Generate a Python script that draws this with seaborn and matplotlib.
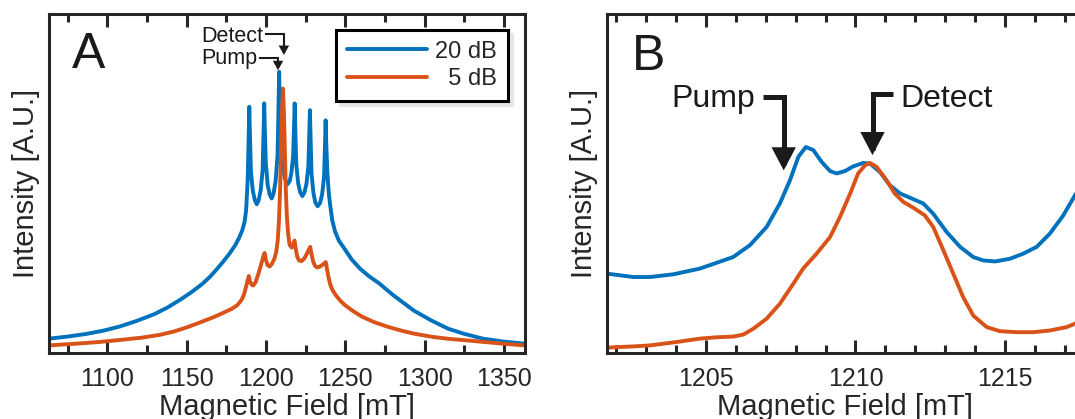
import matplotlib
matplotlib.use("Agg")
import matplotlib.pyplot as plt
from matplotlib.ticker import MultipleLocator, NullLocator
import pandas as pd
import seaborn as sns

# ---------------- data ----------------
series_labels = ["20 dB", "5 dB"]
legend_labels = ["20 dB", "  5 dB"]
series_colors = ["#0072BD", "#D95319"]

# Panel A (wide sweep)
a_blue_x = [1063.5, 1075, 1087, 1098, 1108, 1119, 1130, 1138, 1146, 1153, 1160, 1165, 1169, 1173,
            1177, 1180.5, 1183, 1185, 1186.5, 1187.5, 1188.5, 1189.1, 1189.5,
            1189.9, 1190.5, 1191.7, 1193.0, 1194.2,
            1195.4, 1196.7, 1197.9, 1198.5, 1198.9,
            1199.3, 1199.9, 1201.1, 1202.4, 1203.6,
            1204.8, 1206.1, 1207.3, 1207.9, 1208.3,
            1208.7, 1209.3, 1210.4, 1212.0, 1213.6,
            1215.0, 1216.0, 1217.1, 1217.7, 1218.1,
            1218.5, 1219.1, 1220.3, 1221.6, 1222.9,
            1224.2, 1225.5, 1226.7, 1227.3, 1227.7,
            1228.1, 1228.7, 1229.9, 1231.1, 1232.6,
            1234.1, 1235.4, 1236.6, 1237.2, 1237.6,
            1238.0, 1238.7, 1239.6, 1240.6, 1241.8, 1243.5, 1246.0, 1249.7, 1254, 1259.2,
            1265, 1271.4, 1280, 1293.1, 1304, 1314.9, 1325, 1336.6, 1350, 1363.2]
a_blue_y = [0.041, 0.047, 0.055, 0.065, 0.077, 0.094, 0.114, 0.133, 0.156, 0.178, 0.203, 0.225, 0.246, 0.268,
            0.292, 0.316, 0.338, 0.360, 0.385, 0.420, 0.510, 0.635, 0.726,
            0.645, 0.536, 0.478, 0.450, 0.438,
            0.450, 0.480, 0.539, 0.653, 0.736,
            0.657, 0.560, 0.494, 0.466, 0.455,
            0.470, 0.507, 0.582, 0.724, 0.829,
            0.736, 0.630, 0.560, 0.512, 0.497,
            0.507, 0.530, 0.578, 0.669, 0.736,
            0.659, 0.555, 0.500, 0.473, 0.462,
            0.472, 0.498, 0.548, 0.645, 0.716,
            0.636, 0.529, 0.472, 0.443, 0.432,
            0.442, 0.468, 0.518, 0.615, 0.686,
            0.615, 0.530, 0.470, 0.430, 0.390, 0.358, 0.330, 0.305, 0.275, 0.248,
            0.225, 0.204, 0.170, 0.124, 0.095, 0.070, 0.055, 0.041, 0.032, 0.026]

a_orange_x = [1063.5, 1080, 1095, 1110, 1122, 1133, 1142, 1150, 1158, 1166.8, 1173, 1178.4, 1182,
              1184.7, 1186.2, 1187.4, 1188.4, 1189.2, 1189.9, 1191.0, 1192.0, 1193.5, 1195.2,
              1196.7, 1197.9, 1198.7, 1199.2, 1199.9, 1201.0, 1202.3, 1203.8, 1205.4, 1206.5,
              1207.4, 1208.2, 1208.9, 1209.5, 1210.1, 1210.7, 1211.3, 1211.9, 1212.5, 1213.2,
              1214.0, 1214.9, 1216.2, 1217.3, 1218.0, 1218.6, 1219.6, 1220.8, 1222.4, 1224.2,
              1225.8, 1227.1, 1227.9, 1228.6, 1229.8, 1231.0, 1232.4, 1234.0, 1235.6, 1236.9,
              1237.7, 1238.5, 1239.5, 1240.7, 1242.2, 1244.2, 1247, 1250, 1255, 1260.5, 1268,
              1276, 1285, 1293, 1305, 1316, 1326, 1340, 1352, 1363.2]
a_orange_y = [0.021, 0.026, 0.031, 0.038, 0.044, 0.052, 0.062, 0.074, 0.088, 0.104, 0.117, 0.129, 0.140,
              0.156, 0.172, 0.193, 0.212, 0.226, 0.210, 0.200, 0.198, 0.208, 0.232,
              0.256, 0.276, 0.290, 0.294, 0.275, 0.258, 0.254, 0.262, 0.278, 0.298,
              0.330, 0.390, 0.480, 0.600, 0.710, 0.780, 0.710, 0.600, 0.480, 0.400,
              0.350, 0.318, 0.310, 0.322, 0.331, 0.310, 0.285, 0.272, 0.270, 0.278,
              0.292, 0.305, 0.312, 0.293, 0.268, 0.255, 0.251, 0.254, 0.259, 0.264,
              0.267, 0.245, 0.220, 0.198, 0.182, 0.168, 0.152, 0.139, 0.122, 0.106, 0.090,
              0.077, 0.065, 0.056, 0.046, 0.040, 0.036, 0.030, 0.025, 0.021]

# Panel B (zoom on the central line)
b_blue_x = [1201.6, 1202.57, 1203.13, 1203.91, 1204.8, 1205.91, 1206.47, 1207.03, 1207.47, 1207.81,
            1208.09, 1208.34, 1208.59, 1208.87, 1209.15, 1209.37, 1209.65, 1209.93, 1210.26, 1210.49,
            1210.82, 1211.15, 1211.49, 1211.88, 1212.27, 1212.6, 1213.05, 1213.5, 1213.94, 1214.27,
            1214.67, 1215.17, 1215.61, 1216.06, 1216.5, 1216.95, 1217.34, 1217.7]
b_blue_y = [0.234, 0.223, 0.223, 0.231, 0.248, 0.282, 0.317, 0.371, 0.440, 0.509,
            0.578, 0.607, 0.598, 0.563, 0.536, 0.529, 0.536, 0.550, 0.560, 0.558,
            0.533, 0.494, 0.470, 0.455, 0.440, 0.410, 0.356, 0.312, 0.282, 0.272,
            0.269, 0.277, 0.292, 0.312, 0.351, 0.405, 0.464, 0.520]

b_orange_x = [1201.6, 1202.57, 1203.13, 1204.02, 1204.8, 1205.36, 1205.91, 1206.25, 1206.58, 1207.03,
              1207.47, 1207.92, 1208.25, 1208.70, 1209.15, 1209.48, 1209.82, 1210.09, 1210.32, 1210.49,
              1210.71, 1211.04, 1211.32, 1211.6, 1211.93, 1212.32, 1212.6, 1212.94, 1213.27, 1213.6,
              1213.94, 1214.39, 1214.83, 1215.39, 1215.95, 1216.5, 1217.06, 1217.34, 1217.7]
b_orange_y = [0.014, 0.018, 0.021, 0.031, 0.041, 0.045, 0.047, 0.053, 0.070, 0.100,
              0.144, 0.203, 0.248, 0.292, 0.341, 0.400, 0.469, 0.529, 0.553, 0.560,
              0.548, 0.509, 0.469, 0.445, 0.428, 0.405, 0.371, 0.302, 0.233, 0.164,
              0.109, 0.075, 0.063, 0.060, 0.060, 0.065, 0.075, 0.085, 0.100]

a_xlim = (1063.5, 1363.2)
b_xlim = (1201.7, 1217.61)
xlabel = "Magnetic Field [mT]"
ylabel = "Intensity [A.U.]"


def frame_df(xb, yb, xo, yo):
    return pd.concat([
        pd.DataFrame({"field": xb, "intensity": yb, "series": series_labels[0]}),
        pd.DataFrame({"field": xo, "intensity": yo, "series": series_labels[1]}),
    ], ignore_index=True)


df_a = frame_df(a_blue_x, a_blue_y, a_orange_x, a_orange_y)
df_b = frame_df(b_blue_x, b_blue_y, b_orange_x, b_orange_y)

# ---------------- style ----------------
sns.set_theme(style="ticks")
plt.rcParams["font.family"] = ["Liberation Sans", "DejaVu Sans"]
dark = "#262626"
lw_data = 2.8

W, H = 1075, 419
fig = plt.figure(figsize=(W / 100, H / 100), dpi=100)
ax_w = 475.7 / W
ax_b = (H - 352.5) / H
ax_h = 338.5 / H
axA = fig.add_axes([49.3 / W, ax_b, ax_w, ax_h])
axB = fig.add_axes([607.3 / W, ax_b, ax_w, ax_h])

palette = dict(zip(series_labels, series_colors))
for ax, df in ((axA, df_a), (axB, df_b)):
    sns.lineplot(data=df, x="field", y="intensity", hue="series", palette=palette,
                 hue_order=series_labels, linewidth=lw_data, sort=False, estimator=None,
                 ax=ax, legend=(ax is axA))
    for ln in ax.get_lines():
        ln.set_solid_joinstyle("round")


def style_axes(ax, xlim, major, minor):
    ax.set_xlim(*xlim)
    ax.set_ylim(0, 1)
    ax.xaxis.set_major_locator(MultipleLocator(major))
    ax.xaxis.set_minor_locator(MultipleLocator(minor))
    ax.yaxis.set_major_locator(NullLocator())
    ax.yaxis.set_minor_locator(NullLocator())
    ax.tick_params(axis="x", which="both", direction="in", top=True, bottom=True,
                   width=2.2, color=dark, labelsize=18, labelcolor=dark, pad=10.5)
    ax.tick_params(axis="x", which="major", length=9.5)
    ax.tick_params(axis="x", which="minor", length=5.5)
    for s in ax.spines.values():
        s.set_linewidth(2.2)
        s.set_color(dark)
    ax.set_xlabel(xlabel, fontsize=21, color=dark)
    ax.set_ylabel(ylabel, fontsize=21, color=dark)
    ax.xaxis.set_label_coords(0.5, -0.12)
    ax.yaxis.set_label_coords(-0.02, 0.5)


style_axes(axA, a_xlim, 50, 25)
style_axes(axB, b_xlim, 5, 1)

# panel letters
axA.text(0.048, 0.840, "A", transform=axA.transAxes, fontsize=36, ha="left", va="baseline", color="k")
axB.text(0.052, 0.834, "B", transform=axB.transAxes, fontsize=36, ha="left", va="baseline", color="k")

# legend
handles, _ = axA.get_legend_handles_labels()
leg = axA.legend(handles, legend_labels, loc="upper right", bbox_to_anchor=(0.964, 0.953),
                 borderaxespad=0, frameon=True, fancybox=False, edgecolor="black", framealpha=1,
                 fontsize=17, handlelength=3.4, handletextpad=0.35, labelspacing=0.25,
                 borderpad=0.45,
                 shadow={"ox": 3, "oy": -3, "shade": 0.1, "alpha": 1})
leg.get_frame().set_linewidth(2.2)
for line in leg.get_lines():
    line.set_linewidth(lw_data)


def elbow(ax, start, tip, lw, scale, hl, hw):
    ax.annotate("", xy=tip, xytext=start,
                arrowprops=dict(arrowstyle=f"-|>,head_length={hl},head_width={hw}",
                                connectionstyle="angle,angleA=0,angleB=90,rad=0",
                                lw=lw, color="k", shrinkA=0, shrinkB=0,
                                mutation_scale=scale, joinstyle="miter", capstyle="butt"))


# annotations panel A
axA.text(1198.3, 0.918, "Detect", ha="right", va="baseline", fontsize=15.5, color="k")
elbow(axA, (1199.6, 0.940), (1211.3, 0.879), 1.5, 10, 0.45, 0.25)
axA.text(1194.3, 0.853, "Pump", ha="right", va="baseline", fontsize=15.5, color="k")
elbow(axA, (1195.8, 0.871), (1207.6, 0.834), 1.5, 10, 0.45, 0.25)

# annotations panel B
axB.text(1206.64, 0.725, "Pump", ha="right", va="baseline", fontsize=23, color="k")
elbow(axB, (1206.9, 0.754), (1207.6, 0.538), 3.6, 20, 0.55, 0.29)
axB.text(1211.5, 0.725, "Detect", ha="left", va="baseline", fontsize=23, color="k")
elbow(axB, (1211.25, 0.763), (1210.57, 0.583), 3.6, 20, 0.55, 0.29)

fig.savefig("out.png", dpi=100)
